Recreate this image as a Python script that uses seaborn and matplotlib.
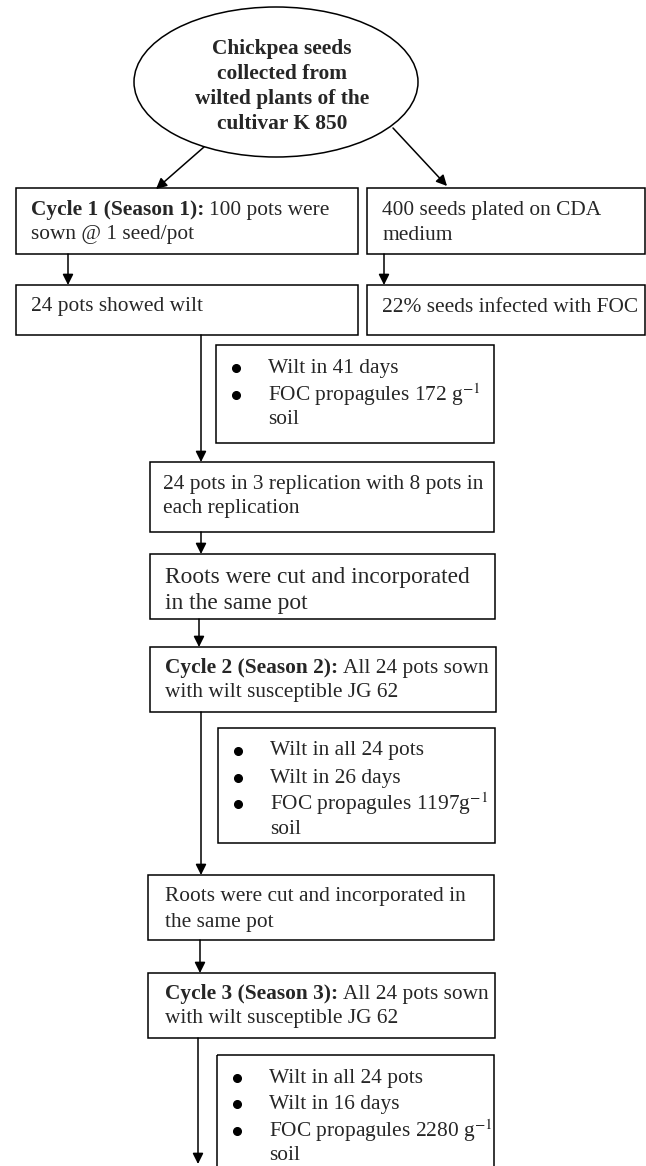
import matplotlib
matplotlib.use("Agg")
import matplotlib.pyplot as plt
import seaborn as sns
from matplotlib.patches import Ellipse, Rectangle

# -----------------------------
# Flowchart text
# -----------------------------
start_lines = ["Chickpea seeds", "collected from", "wilted plants of the", "cultivar K 850"]

cycle1_lines = [("Cycle 1 (Season 1):", "100 pots were"), ("", "sown @ 1 seed/pot")]
plated_lines = [("", "400 seeds plated on CDA"), ("", "medium")]
wilt_lines = [("", "24 pots showed wilt")]
infected_lines = [("", "22% seeds infected with FOC")]
replication_lines = [("", "24 pots in 3 replication with 8 pots in"), ("", "each replication")]
roots1_lines = [("", "Roots were cut and incorporated"), ("", "in the same pot")]
cycle2_lines = [("Cycle 2 (Season 2):", "All 24 pots sown"), ("", "with wilt susceptible JG 62")]
roots2_lines = [("", "Roots were cut and incorporated in"), ("", "the same pot")]
cycle3_lines = [("Cycle 3 (Season 3):", "All 24 pots sown"), ("", "with wilt susceptible JG 62")]

result1_lines = ["Wilt in 41 days", "FOC propagules 172 g$^{-1}$", "soil"]
result1_bullets = [True, True, False]
result2_lines = ["Wilt in all 24 pots", "Wilt in 26 days", "FOC propagules 1197g$^{-1}$", "soil"]
result2_bullets = [True, True, True, False]
result3_lines = ["Wilt in all 24 pots", "Wilt in 16 days", "FOC propagules 2280 g$^{-1}$", "soil"]
result3_bullets = [True, True, True, False]

# -----------------------------
# Layout (pixel coordinates, y downwards)
# -----------------------------
W, H = 646, 1166
FS = 15.4

boxes = [
    # x0, y0, x1, y1, text_x, line_ys, fontsize, lines
    (16, 188, 358, 254, 31, [210, 235], FS, cycle1_lines),
    (367, 188, 645, 254, 382, [210, 235], FS, plated_lines),
    (16, 285, 358, 335, 31, [307], FS, wilt_lines),
    (367, 285, 645, 335, 382, [307], FS, infected_lines),
    (150, 462, 494, 532, 163, [484, 509], FS, replication_lines),
    (150, 554, 495, 619, 165, [577, 603], 16.8, roots1_lines),
    (150, 647, 496, 712, 165, [668, 693], FS, cycle2_lines),
    (148, 875, 494, 940, 165, [897, 922], FS, roots2_lines),
    (148, 973, 495, 1038, 165, [994, 1018], FS, cycle3_lines),
]

result_boxes = [
    (216, 345, 494, 443, [368, 395, 420], result1_lines, result1_bullets),
    (218, 728, 495, 843, [751, 778, 804, 829], result2_lines, result2_bullets),
    (217, 1055, 494, 1190, [1078, 1104, 1131, 1156], result3_lines, result3_bullets),
]

arrows = [
    ((204, 147), (156, 189)),
    ((393, 128), (447, 186)),
    ((68, 254), (68, 285)),
    ((384, 254), (384, 285)),
    ((201, 335), (201, 462)),
    ((201, 532), (201, 554)),
    ((199, 619), (199, 647)),
    ((201, 712), (201, 875)),
    ((200, 940), (200, 973)),
    ((198, 1038), (198, 1164)),
]

# -----------------------------
# Draw
# -----------------------------
sns.set_style("white")
plt.rcParams["font.family"] = ["Liberation Serif", "DejaVu Serif"]
plt.rcParams["mathtext.fontset"] = "stix"

fig = plt.figure(figsize=(W / 100, H / 100), dpi=100)
ax = fig.add_axes([0, 0, 1, 1])
ax.set_xlim(0, W)
ax.set_ylim(H, 0)
ax.axis("off")
renderer = fig.canvas.get_renderer()

lw = 1.1

ax.add_patch(Ellipse((276, 82), 284, 150, fill=False, lw=lw, color="black"))
for i, line in enumerate(start_lines):
    ax.text(282, 49 + i * 25, line, ha="center", va="center",
            fontsize=FS, fontweight="bold")

for x0, y0, x1, y1, tx, ys, fs, lines in boxes:
    ax.add_patch(Rectangle((x0, y0), x1 - x0, y1 - y0, fill=False, lw=lw, ec="black"))
    for y, (bold, regular) in zip(ys, lines):
        x = tx
        if bold:
            t = ax.text(x, y, bold, ha="left", va="center", fontsize=fs, fontweight="bold")
            x += t.get_window_extent(renderer).width + 5
        ax.text(x, y, regular, ha="left", va="center", fontsize=fs)

for x0, y0, x1, y1, ys, lines, bullets in result_boxes:
    ax.add_patch(Rectangle((x0, y0), x1 - x0, y1 - y0, fill=False, lw=lw, ec="black"))
    for y, line, b in zip(ys, lines, bullets):
        if b:
            ax.plot(x0 + 20, y, marker="o", ms=5.5, color="black")
        ax.text(x0 + 52, y, line, ha="left", va="center", fontsize=FS)

for start, end in arrows:
    ax.annotate("", xy=end, xytext=start,
                arrowprops=dict(arrowstyle="-|>", color="black", lw=lw,
                                mutation_scale=16, shrinkA=0, shrinkB=0))

fig.savefig("out.png", dpi=100)
